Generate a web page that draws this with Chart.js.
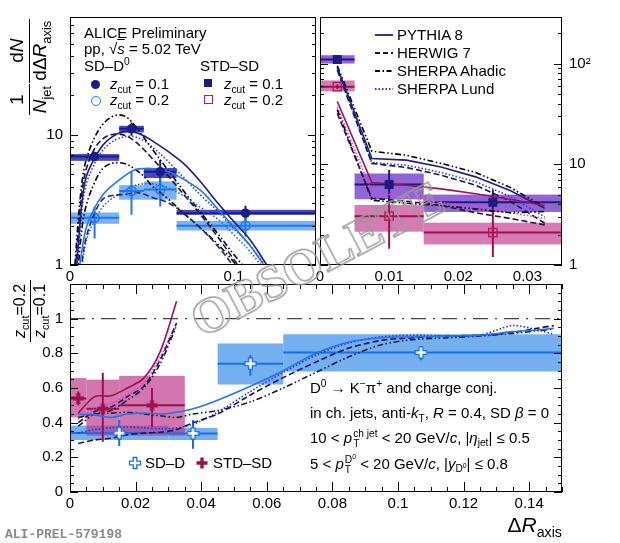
<!DOCTYPE html>
<html>
<head>
<meta charset="utf-8">
<script src="https://cdn.jsdelivr.net/npm/chart.js@4.4.1/dist/chart.umd.min.js"></script>
<style>
  html, body { margin: 0; padding: 0; background: #fff; }
  #fig { position: relative; width: 620px; height: 543px; overflow: hidden;
         font-family: "Liberation Sans", Arial, Helvetica, sans-serif; color: #000; }
  #fig canvas { position: absolute; left: 0; top: 0; }
  .t { position: absolute; white-space: nowrap; font-size: 15px; line-height: 16px; }
  .t sub, .t sup, .yt sub { font-size: 0.68em; line-height: 0; }
  .t sub, .yt sub { vertical-align: -0.35em; }
  .t sup { vertical-align: 0.6em; }
  .ss { display: inline-flex; flex-direction: column; font-size: 0.68em; line-height: 1; vertical-align: 0.55em; margin-left: 1px; }
  .mk { position: absolute; box-sizing: border-box; }
  .yt { position: absolute; display: flex; align-items: center; justify-content: center;
        transform: rotate(-90deg); white-space: nowrap; }
  .frac { display: inline-flex; flex-direction: column; align-items: center; line-height: 1.1; }
  .frac > span:first-child { border-bottom: 1.6px solid #000; padding: 0 2px 1px; width: 100%; text-align: center; }
  #wm { position: absolute; left: 155px; top: 230px; width: 320px; height: 50px; line-height: 50px; text-align: center;
        transform: rotate(-27.7deg); font: bold 51px "Liberation Serif", "Times New Roman", serif;
        color: transparent; -webkit-text-stroke: 1.4px #9a9a9a; }
</style>
</head>
<body>
<div id="fig">
  <canvas id="tl" width="620" height="543"></canvas>
  <canvas id="tr" width="620" height="543"></canvas>
  <canvas id="bt" width="620" height="543"></canvas>

  <!-- top left legend -->
  <div class="t" style="left:84px;top:25px">ALICE Preliminary</div>
  <div class="t" style="left:84px;top:41px">pp, √<span style="text-decoration:overline"><i>s</i></span> = 5.02 TeV</div>
  <div class="t" style="left:84px;top:58px">SD–D<sup>0</sup></div>
  <div class="t" style="left:200px;top:58px">STD–SD</div>
  <div class="mk" style="left:91px;top:80px;width:9px;height:9px;border-radius:50%;background:#1c1c8c"></div>
  <div class="t" style="left:110px;top:76px"><i>z</i><sub>cut</sub> = 0.1</div>
  <div class="mk" style="left:91px;top:96px;width:10px;height:10px;border-radius:50%;border:1.5px solid #2277ee"></div>
  <div class="t" style="left:110px;top:92px"><i>z</i><sub>cut</sub> = 0.2</div>
  <div class="mk" style="left:204px;top:79px;width:8px;height:8px;background:#1e1a80"></div>
  <div class="t" style="left:224px;top:76px"><i>z</i><sub>cut</sub> = 0.1</div>
  <div class="mk" style="left:204px;top:95px;width:9px;height:9px;border:1.3px solid #b02060"></div>
  <div class="t" style="left:224px;top:92px"><i>z</i><sub>cut</sub> = 0.2</div>

  <!-- top right legend -->
  <svg style="position:absolute;left:370px;top:25px" width="30" height="75">
    <line x1="5" y1="10" x2="23" y2="10" stroke="#1a1a8c" stroke-width="1.8"/>
    <line x1="5" y1="28" x2="23" y2="28" stroke="#141450" stroke-width="1.8" stroke-dasharray="5 3"/>
    <line x1="5" y1="46" x2="23" y2="46" stroke="#000" stroke-width="1.8" stroke-dasharray="5 2.5 1.5 2.5"/>
    <line x1="5" y1="64" x2="23" y2="64" stroke="#3535f0" stroke-width="1.8" stroke-dasharray="1.5 2"/>
  </svg>
  <div class="t" style="left:397px;top:27px">PYTHIA 8</div>
  <div class="t" style="left:397px;top:45px">HERWIG 7</div>
  <div class="t" style="left:397px;top:63px">SHERPA Ahadic</div>
  <div class="t" style="left:397px;top:81px">SHERPA Lund</div>

  <!-- bottom panel text -->
  <div class="t" style="left:310px;top:380px">D<sup>0</sup> → K<sup>−</sup>π<sup>+</sup> and charge conj.</div>
  <div class="t" style="left:310px;top:405px">in ch. jets, anti-<i>k</i><sub>T</sub>, <i>R</i> = 0.4, SD <i>β</i> = 0</div>
  <div class="t" style="left:310px;top:429px">10 &lt; <i>p</i><span class="ss"><span>ch jet</span><span>T</span></span> &lt; 20 GeV/<i>c</i>, |<i>η</i><sub>jet</sub>| ≤ 0.5</div>
  <div class="t" style="left:310px;top:455px">5 &lt; <i>p</i><span class="ss"><span>D<sup>0</sup></span><span>T</span></span> &lt; 20 GeV/<i>c</i>, |<i>y</i><sub>D<sup>0</sup></sub>| ≤ 0.8</div>

  <svg style="position:absolute;left:128px;top:456px" width="14" height="14">
    <polygon points="5.2,1.5 8.8,1.5 8.8,5.2 12.5,5.2 12.5,8.8 8.8,8.8 8.8,12.5 5.2,12.5 5.2,8.8 1.5,8.8 1.5,5.2 5.2,5.2" fill="#fff" stroke="#1a6fe0" stroke-width="1.3"/>
  </svg>
  <div class="t" style="left:145px;top:455px">SD–D</div>
  <svg style="position:absolute;left:195px;top:456px" width="14" height="14">
    <polygon points="5.3,1.5 8.7,1.5 8.7,5.3 12.5,5.3 12.5,8.7 8.7,8.7 8.7,12.5 5.3,12.5 5.3,8.7 1.5,8.7 1.5,5.3 5.3,5.3" fill="#9a1050"/>
  </svg>
  <div class="t" style="left:213px;top:455px">STD–SD</div>

  <!-- axis titles -->
  <div class="yt" style="left:-26px;top:39px;width:110px;height:56px;font-size:19px">
    <span class="frac"><span>1</span><span><i>N</i><sub>jet</sub></span></span>&nbsp;
    <span class="frac"><span>d<i>N</i></span><span>dΔ<i>R</i><sub>axis</sub></span></span>
  </div>
  <div class="yt" style="left:0px;top:286px;width:60px;height:50px;font-size:16px">
    <span class="frac"><span><i>z</i><sub>cut</sub>=0.2</span><span><i>z</i><sub>cut</sub>=0.1</span></span>
  </div>
  <div class="t" style="right:58px;top:514px;font-size:21px;line-height:22px">Δ<i>R</i><sub>axis</sub></div>
  <div class="t" style="left:5px;top:527px;font:bold 13px 'Liberation Mono', 'DejaVu Sans Mono', monospace;color:#8a8a8a">ALI-PREL-579198</div>

  <div id="wm">OBSOLETE</div>
</div>

<script>
// ---------- measured points: SD-D0 (top left) ----------
const sdEdges = [0, 0.03, 0.045, 0.065, 0.15];
const sdX = [0.015, 0.0375, 0.055, 0.107];
const sdZ1 = [6.8, 11.1, 5.2, 2.5];
const sdZ1Stat = [[6.3, 7.3], [9.8, 12.4], [4.1, 6.4], [2.2, 2.85]];
const sdZ1Sys = [[6.3, 7.1], [10.4, 11.7], [4.65, 5.55], [2.43, 2.65]];
const sdZ2 = [2.3, 3.7, 3.8, 2.0];
const sdZ2Stat = [[1.6, 2.8], [2.43, 5.25], [2.81, 4.66], [1.65, 2.29]];
const sdZ2Sys = [[2.07, 2.53], [3.17, 4.1], [3.17, 4.38], [1.84, 2.18]];

// ---------- measured points: STD-SD (top right) ----------
const stdEdges = [0, 0.005, 0.015, 0.035];
const stdX = [0.0025, 0.01, 0.025];
const stdZ1 = [110, 6.3, 4.2];
const stdZ1Stat = [[105, 115], [4.2, 8.8], [3.2, 5.6]];
const stdZ1Sys = [[100, 121], [4.5, 8.1], [3.36, 5.0]];
const stdZ2 = [59, 3.05, 2.1];
const stdZ2Stat = [[56, 62], [1.45, 4.4], [1.2, 3.6]];
const stdZ2Sys = [[53, 68], [2.14, 3.94], [1.6, 2.63]];

// ---------- ratios zcut=0.2 / zcut=0.1 (bottom) ----------
const rSd = [0.34, 0.338, 0.74, 0.805];
const rSdStat = [[0.265, 0.416], [0.25, 0.416], [0.67, 0.79], [0.76, 0.84]];
const rSdSys = [[0.30, 0.383], [0.30, 0.37], [0.62, 0.857], [0.695, 0.91]];
const rStd = [0.54, 0.48, 0.5];
const rStdStat = [[0.50, 0.58], [0.29, 0.687], [0.377, 0.6]];
const rStdSys = [[0.43, 0.658], [0.325, 0.648], [0.325, 0.67]];

// ---------- MC curves, top left ----------
const tlX = [0.003, 0.005, 0.0075, 0.01, 0.015, 0.02, 0.025, 0.03, 0.035, 0.04, 0.045, 0.05, 0.06, 0.07, 0.08, 0.09, 0.1, 0.11, 0.12, 0.13];
const tlPy1 = [0.7, 1.4, 3.2, 4.8, 6.6, 8.3, 9.5, 10.3, 10.6, 10.4, 9.8, 9.0, 7.4, 5.9, 4.3, 3.0, 2.15, 1.55, 1.0, 0.65];
const tlHw1 = [0.8, 1.8, 3.8, 5.5, 7.8, 9.3, 10.0, 10.1, 9.7, 8.8, 7.7, 6.6, 4.8, 3.4, 2.4, 1.65, 1.1, 0.75, 0.5, 0.35];
const tlShA1 = [1.0, 2.2, 4.5, 6.5, 9.5, 12.0, 13.6, 14.2, 13.5, 11.5, 9.5, 7.8, 5.3, 3.6, 2.5, 1.75, 1.2, 0.85, 0.6, 0.4];
const tlShL1 = [0.6, 1.2, 2.8, 4.2, 6.0, 7.6, 8.7, 9.4, 9.7, 9.6, 9.0, 8.1, 6.2, 4.6, 3.4, 2.6, 1.9, 1.4, 0.95, 0.6];
const tlPy2 = [0.5, 0.8, 1.35, 1.95, 2.75, 3.45, 4.0, 4.5, 5.0, 5.4, 5.5, 5.5, 5.2, 4.5, 3.7, 2.7, 1.95, 1.4, 0.92, 0.6];
const tlHw2 = [0.3, 0.5, 1.1, 1.65, 2.5, 3.2, 3.4, 3.45, 3.5, 3.6, 3.5, 3.3, 3.0, 2.45, 1.9, 1.4, 0.97, 0.67, 0.45, 0.3];
const tlShA2 = [0.45, 0.95, 2.0, 2.9, 4.3, 5.5, 6.0, 6.1, 5.9, 5.4, 4.8, 4.05, 3.2, 2.45, 1.9, 1.45, 1.05, 0.75, 0.5, 0.35];
const tlShL2 = [0.2, 0.42, 1.0, 1.55, 2.2, 2.8, 3.2, 3.5, 3.8, 4.1, 4.2, 4.2, 3.9, 3.35, 2.75, 2.25, 1.7, 1.26, 0.86, 0.55];

// ---------- MC curves, top right ----------
const trX = [0.0025, 0.0075, 0.0125, 0.0175, 0.0225, 0.0275, 0.0325];
const trPy1 = [92, 11.4, 11.0, 9.4, 7.5, 5.5, 3.65];
const trHw1 = [86, 10.2, 9.3, 7.8, 6.2, 4.3, 2.6];
const trShA1 = [95, 13.5, 12.3, 10.2, 8.3, 5.9, 3.75];
const trShL1 = [90, 10.4, 9.8, 8.3, 6.7, 4.8, 3.0];
const trPy2 = [42, 6.6, 6.2, 5.7, 5.1, 4.5, 3.9];
const trHw2 = [32, 4.6, 4.3, 3.9, 3.3, 2.9, 2.5];
const trShA2 = [35, 4.4, 4.1, 3.9, 3.6, 3.3, 3.4];
const trShL2 = [37, 5.3, 4.75, 4.2, 3.7, 3.3, 2.9];

// ---------- MC ratio curves, bottom ----------
const rSdX = [0.0025, 0.0075, 0.0125, 0.0175, 0.0225, 0.0275, 0.0325, 0.0375, 0.045, 0.055, 0.065, 0.075, 0.085, 0.095, 0.105, 0.115, 0.125, 0.135, 0.1425, 0.1475];
const rSdPy = [0.45, 0.445, 0.43, 0.45, 0.455, 0.45, 0.46, 0.48, 0.53, 0.61, 0.70, 0.80, 0.865, 0.89, 0.895, 0.9, 0.905, 0.925, 0.935, 0.945];
const rSdHw = [0.28, 0.30, 0.31, 0.33, 0.34, 0.345, 0.36, 0.40, 0.45, 0.56, 0.66, 0.75, 0.83, 0.875, 0.89, 0.9, 0.905, 0.92, 0.945, 0.96];
const rSdShA = [0.43, 0.45, 0.455, 0.46, 0.45, 0.44, 0.43, 0.45, 0.47, 0.52, 0.60, 0.69, 0.78, 0.85, 0.88, 0.89, 0.9, 0.915, 0.93, 0.94];
const rSdShL = [0.34, 0.36, 0.37, 0.375, 0.37, 0.365, 0.37, 0.39, 0.46, 0.58, 0.69, 0.79, 0.86, 0.895, 0.905, 0.9, 0.905, 0.96, 0.935, 0.91];
const rStdX = [0.0025, 0.0075, 0.0125, 0.0175, 0.0225, 0.0275, 0.0325];
const rStdPy = [0.455, 0.55, 0.555, 0.6, 0.657, 0.81, 1.1];
const rStdHw = [0.40, 0.464, 0.49, 0.55, 0.61, 0.763, 0.975];
const rStdShA = [0.38, 0.45, 0.47, 0.53, 0.60, 0.74, 0.96];
const rStdShL = [0.42, 0.48, 0.51, 0.56, 0.63, 0.78, 0.975];
const unityX = [0, 0.15];
const unityY = [1, 1];

// ---------- axis ticks ----------
const tlXTicks = [0, 0.1], tlXLabels = ['0', '0.1'];
const tlYTicks = [1, 10], tlYLabels = ['1', '10'];
const trXTicks = [0, 0.01, 0.02, 0.03], trXLabels = ['0', '0.01', '0.02', '0.03'];
const trYTicks = [1, 10, 100], trYLabels = ['1', '10', '10²'];
const btXTicks = [0, 0.02, 0.04, 0.06, 0.08, 0.1, 0.12, 0.14];
const btXLabels = ['0', '0.02', '0.04', '0.06', '0.08', '0.1', '0.12', '0.14'];
const btYTicks = [0, 0.2, 0.4, 0.6, 0.8, 1], btYLabels = ['0', '0.2', '0.4', '0.6', '0.8', '1'];

Chart.defaults.font.family = '"Liberation Sans", Arial, sans-serif';
Chart.defaults.font.size = 15;
Chart.defaults.color = '#000';

const NAVY = '#1c1c8c', BLUE = '#2277ee', CRIMSON = '#a01050', MAGENTA = '#ee30ee';
const DASH = { solid: [], dash: [6, 3], dashdot: [6, 2.5, 1.5, 2.5, 1.5, 2.5], dot: [1.5, 2] };

function curve(xs, ys, color, dash, tension) {
  return { data: xs.map((x, i) => ({ x, y: ys[i] })), borderColor: color, borderWidth: 1.6,
           borderDash: DASH[dash], pointRadius: 0, fill: false, tension: tension, order: 5 };
}
function marks(xs, ys, style, color, bg, r) {
  return { data: xs.map((x, i) => ({ x, y: ys[i] })), showLine: false, pointStyle: style,
           pointRadius: r, pointBorderColor: color, pointBackgroundColor: bg, pointBorderWidth: 1.5, order: 0 };
}
function crossImg(color, filled) {
  const c = document.createElement('canvas');
  c.width = 13; c.height = 13;
  const g = c.getContext('2d');
  const h = 5.6, w = 1.9, o = 6.5;
  const p = [[-w,-h],[w,-h],[w,-w],[h,-w],[h,w],[w,w],[w,h],[-w,h],[-w,w],[-h,w],[-h,-w],[-w,-w]];
  g.beginPath();
  p.forEach(([a, b], i) => i ? g.lineTo(o + a, o + b) : g.moveTo(o + a, o + b));
  g.closePath();
  if (filled) { g.fillStyle = color; g.fill(); }
  else { g.fillStyle = '#fff'; g.fill(); g.strokeStyle = color; g.lineWidth = 1.3; g.stroke(); }
  return c;
}

// extras per panel (boxes, error bars, frame ticks), read by the plugin
const extras = {
  tl: {
    boxes: [{ edges: sdEdges, sys: sdZ1Sys, color: 'rgba(40,40,180,0.85)' },
            { edges: sdEdges, sys: sdZ2Sys, color: 'rgba(70,150,235,0.72)' }],
    bars: [{ edges: sdEdges, xs: sdX, ys: sdZ1, stat: sdZ1Stat, color: NAVY },
           { edges: sdEdges, xs: sdX, ys: sdZ2, stat: sdZ2Stat, color: BLUE }],
    xMajor: tlXTicks, xMinor: 0.02, xBottom: false, xTop: false, yLog: true, xLen: 8
  },
  tr: {
    boxes: [{ edges: stdEdges, sys: stdZ1Sys, color: 'rgba(110,50,200,0.75)' },
            { edges: stdEdges, sys: stdZ2Sys, color: 'rgba(195,60,145,0.68)' }],
    bars: [{ edges: stdEdges, xs: stdX, ys: stdZ1, stat: stdZ1Stat, color: '#1e1a80' },
           { edges: stdEdges, xs: stdX, ys: stdZ2, stat: stdZ2Stat, color: CRIMSON }],
    xMajor: trXTicks, xMinor: 0.002, xBottom: false, xTop: false, yLog: true, xLen: 8
  },
  bt: {
    boxes: [{ edges: sdEdges, sys: rSdSys, color: 'rgba(70,150,235,0.75)' },
            { edges: stdEdges, sys: rStdSys, color: 'rgba(190,60,140,0.7)' }],
    bars: [{ edges: sdEdges, xs: sdX, ys: rSd, stat: rSdStat, color: '#1a6fe0' },
           { edges: stdEdges, xs: stdX, ys: rStd, stat: rStdStat, color: '#9a1050' }],
    xMajor: btXTicks, xMinor: 0.005, xBottom: true, xTop: true, yLog: false, yMajor: btYTicks, yMinor: 0.05, xLen: 10
  }
};

const rootDraw = {
  id: 'rootDraw',
  beforeDatasetsDraw(chart) {
    const e = extras[chart.canvas.id];
    const { ctx, chartArea: a, scales: { x, y } } = chart;
    ctx.save();
    ctx.beginPath(); ctx.rect(a.left, a.top, a.width, a.height); ctx.clip();
    e.boxes.forEach(b => {
      ctx.fillStyle = b.color;
      b.sys.forEach(([lo, hi], i) => {
        const x0 = x.getPixelForValue(b.edges[i]), x1 = x.getPixelForValue(b.edges[i + 1]);
        const y0 = y.getPixelForValue(hi), y1 = y.getPixelForValue(lo);
        ctx.fillRect(x0, y0, x1 - x0, y1 - y0);
      });
    });
    e.bars.forEach(b => {
      ctx.strokeStyle = b.color; ctx.lineWidth = 2;
      ctx.beginPath();
      b.xs.forEach((v, i) => {
        const py = y.getPixelForValue(b.ys[i]), px = x.getPixelForValue(v);
        ctx.moveTo(x.getPixelForValue(b.edges[i]), py);
        ctx.lineTo(x.getPixelForValue(b.edges[i + 1]), py);
        ctx.moveTo(px, y.getPixelForValue(b.stat[i][0]));
        ctx.lineTo(px, y.getPixelForValue(b.stat[i][1]));
      });
      ctx.stroke();
    });
    ctx.restore();
  },
  afterDraw(chart) {
    const e = extras[chart.canvas.id];
    const { ctx, chartArea: a, scales: { x, y } } = chart;
    ctx.save();
    ctx.strokeStyle = '#000'; ctx.lineWidth = 1;
    ctx.strokeRect(a.left + 0.5, a.top + 0.5, a.width - 1, a.height - 1);
    ctx.beginPath();
    const xt = (v, len) => {
      const p = Math.round(x.getPixelForValue(v)) + 0.5;
      if (e.xBottom) { ctx.moveTo(p, a.bottom); ctx.lineTo(p, a.bottom - len); }
      if (e.xTop) { ctx.moveTo(p, a.top); ctx.lineTo(p, a.top + len); }
    };
    const yt = (v, len) => {
      const p = Math.round(y.getPixelForValue(v)) + 0.5;
      ctx.moveTo(a.left, p); ctx.lineTo(a.left + len, p);
      ctx.moveTo(a.right, p); ctx.lineTo(a.right - len, p);
    };
    for (let v = x.min; v <= x.max + 1e-9; v += e.xMinor) {
      const major = e.xMajor.some(m => Math.abs(m - v) < 1e-7);
      xt(v, major ? e.xLen : e.xLen / 2);
    }
    if (e.yLog) {
      for (let d = 1; d <= y.max; d *= 10) {
        for (let k = 1; k <= 9; k++) {
          const v = k * d;
          if (v >= y.min && v <= y.max) yt(v, k === 1 ? 8 : 4);
        }
      }
    } else {
      for (let v = y.min; v <= y.max + 1e-9; v += e.yMinor) {
        const major = e.yMajor.some(m => Math.abs(m - v) < 1e-7);
        yt(v, major ? 8 : 4);
      }
    }
    ctx.stroke();
    ctx.restore();
  }
};

function options(pad, ax) {
  return {
    responsive: false, animation: false, events: [],
    layout: { padding: pad },
    plugins: { legend: { display: false }, tooltip: { enabled: false } },
    scales: {
      x: { type: 'linear', position: 'bottom', min: ax.xMin, max: ax.xMax,
           grid: { display: false, drawTicks: false }, border: { display: false },
           ticks: { autoSkip: false, maxRotation: 0, padding: 3, callback: (v, i) => ax.xLabels[i] },
           afterBuildTicks: s => { s.ticks = ax.xTicks.map(v => ({ value: v })); },
           afterFit: s => { s.height = 20; } },
      y: { type: ax.yType, position: ax.yPos, min: ax.yMin, max: ax.yMax,
           grid: { display: false, drawTicks: false }, border: { display: false },
           ticks: { autoSkip: false, padding: 7, callback: (v, i) => ax.yLabels[i] },
           afterBuildTicks: s => { s.ticks = ax.yTicks.map(v => ({ value: v })); },
           afterFit: s => { s.width = 40; } }
    }
  };
}

// top left: SD-D0
new Chart(document.getElementById('tl'), {
  type: 'line',
  data: { datasets: [
    curve(tlX, tlPy2, BLUE, 'solid', 0.35),
    curve(tlX, tlHw2, '#1a2a80', 'dash', 0.35),
    curve(tlX, tlShA2, '#000', 'dashdot', 0.35),
    curve(tlX, tlShL2, '#2060e8', 'dot', 0.35),
    curve(tlX, tlPy1, NAVY, 'solid', 0.35),
    curve(tlX, tlHw1, '#141450', 'dash', 0.35),
    curve(tlX, tlShA1, '#000', 'dashdot', 0.35),
    curve(tlX, tlShL1, '#3535f0', 'dot', 0.35),
    marks(sdX, sdZ1, 'circle', NAVY, NAVY, 4),
    marks(sdX, sdZ2, 'circle', BLUE, 'rgba(0,0,0,0)', 4.5)
  ] },
  options: options({ left: 30, top: 17, right: 304, bottom: 258 },
    { xMin: 0, xMax: 0.15, xTicks: tlXTicks, xLabels: tlXLabels, yType: 'logarithmic', yPos: 'left',
      yMin: 1, yMax: 80, yTicks: tlYTicks, yLabels: tlYLabels }),
  plugins: [rootDraw]
});

// top right: STD-SD
new Chart(document.getElementById('tr'), {
  type: 'line',
  data: { datasets: [
    curve(trX, trPy2, CRIMSON, 'solid', 0),
    curve(trX, trHw2, '#2a1040', 'dash', 0),
    curve(trX, trShA2, '#000', 'dashdot', 0),
    curve(trX, trShL2, MAGENTA, 'dot', 0),
    curve(trX, trPy1, NAVY, 'solid', 0),
    curve(trX, trHw1, '#141450', 'dash', 0),
    curve(trX, trShA1, '#000', 'dashdot', 0),
    curve(trX, trShL1, '#3535f0', 'dot', 0),
    marks(stdX, stdZ1, 'rect', '#1e1a80', '#1e1a80', 5.3),
    marks(stdX, stdZ2, 'rect', '#b02060', 'rgba(0,0,0,0)', 5.8)
  ] },
  options: options({ left: 320, top: 17, right: 18, bottom: 258 },
    { xMin: 0, xMax: 0.035, xTicks: trXTicks, xLabels: trXLabels, yType: 'logarithmic', yPos: 'right',
      yMin: 1, yMax: 290, yTicks: trYTicks, yLabels: trYLabels }),
  plugins: [rootDraw]
});

// bottom: ratios
const unity = curve(unityX, unityY, '#444', 'solid', 0);
unity.borderDash = [15, 7, 2, 7];
unity.borderWidth = 1.2;
new Chart(document.getElementById('bt'), {
  type: 'line',
  data: { datasets: [
    unity,
    curve(rSdX, rSdPy, BLUE, 'solid', 0.3),
    curve(rSdX, rSdHw, '#141460', 'dash', 0.3),
    curve(rSdX, rSdShA, '#1a1a40', 'dashdot', 0.3),
    curve(rSdX, rSdShL, '#2a2aee', 'dot', 0.3),
    curve(rStdX, rStdPy, CRIMSON, 'solid', 0.3),
    curve(rStdX, rStdHw, '#2a1040', 'dash', 0.3),
    curve(rStdX, rStdShA, '#1a1a40', 'dashdot', 0.3),
    curve(rStdX, rStdShL, MAGENTA, 'dot', 0.3),
    marks(sdX, rSd, crossImg('#1a6fe0', false), '#1a6fe0', '#fff', 6),
    marks(stdX, rStd, crossImg('#9a1050', true), '#9a1050', '#9a1050', 6)
  ] },
  options: options({ left: 30, top: 284, right: 58, bottom: 31 },
    { xMin: 0, xMax: 0.15, xTicks: btXTicks, xLabels: btXLabels, yType: 'linear', yPos: 'left',
      yMin: 0, yMax: 1.2, yTicks: btYTicks, yLabels: btYLabels }),
  plugins: [rootDraw]
});
</script>
</body>
</html>
